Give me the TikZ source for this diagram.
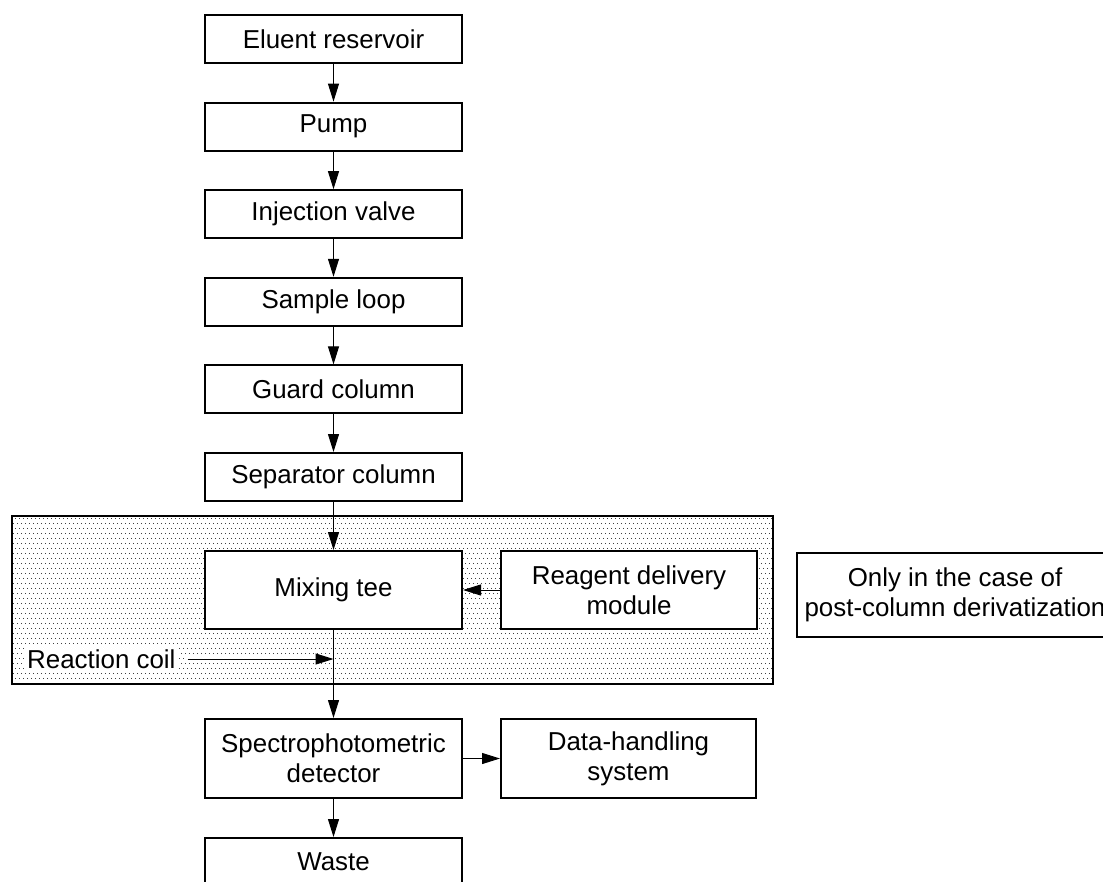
\documentclass[tikz,border=0pt]{standalone}
\usepackage{fontspec}
\setmainfont{Liberation Sans}
\usetikzlibrary{arrows.meta}
\begin{document}
\begin{tikzpicture}[x=1pt,y=-1pt,
  txt/.style={font=\fontsize{25.9}{30}\selectfont},
  box/.style={txt, draw, line width=2pt, fill=white, inner sep=0pt, align=center, minimum width=257pt, minimum height=48pt},
  conn/.style={line width=1pt, -{Triangle[length=18pt,width=11pt]}},
  dotrow/.style={line width=1pt, black!75, dash pattern=on 1pt off 3pt},
  ]
\useasboundingbox (0,0) rectangle (1103,881);
\clip (0,0) rectangle (1103,881);
% shaded region (post-column derivatization)
\begin{scope}
  \clip (11,515) rectangle (774,684);
  \foreach \k in {0,...,16} {
    \draw[dotrow] (11,{518.5+\k*10}) -- (774,{518.5+\k*10});
    \draw[dotrow, dash phase=2pt] (11,{523.5+\k*10}) -- (774,{523.5+\k*10});
  }
\end{scope}
\draw[line width=2pt] (12,516) rectangle (773,684);
% boxes
\node[box] (eluent) at (333.5,39) {Eluent reservoir};
\node[box] (pump) at (333.5,126.6) {Pump};
\node[box] (inj) at (333.5,214.2) {Injection valve};
\node[box] (loop) at (333.5,301.8) {Sample loop};
\node[box] (guard) at (333.5,389.4) {Guard column};
\node[box] (sep) at (333.5,477) {Separator column};
\node[box, minimum height=78pt] (mix) at (333.5,590) {Mixing tee};
\node[box, minimum width=256pt, minimum height=78pt] (reag) at (629,590) {Reagent delivery\\module};
\node[box, minimum height=79pt] (spec) at (333.5,758.5) {Spectrophotometric\\detector};
\node[box, minimum width=255pt, minimum height=79pt] (data) at (628.5,758.5) {Data-handling\\system};
\node[box] (waste) at (333.5,862) {Waste};
\node[box, minimum width=316pt, minimum height=84pt] (note) at (955,595) {Only in the case of\\post-column derivatization};
% reaction coil label
\node[txt, fill=white, inner sep=3pt, anchor=west] (coil) at (24,659) {Reaction coil};
\coordinate (coiltip) at (coil.east -| mix.south);
\draw[white, line width=7pt] ([xshift=6pt]coil.east) -- ([xshift=-1pt]coiltip);
% connectors
\draw[conn] (eluent) -- (pump);
\draw[conn] (pump) -- (inj);
\draw[conn] (inj) -- (loop);
\draw[conn] (loop) -- (guard);
\draw[conn] (guard) -- (sep);
\draw[conn] (sep) -- (mix);
\draw[conn] (reag) -- (mix);
\draw[conn] (mix) -- (spec);
\draw[conn] ([xshift=9pt]coil.east) -- (coiltip);
\draw[conn] (spec) -- (data);
\draw[conn] (spec) -- (waste);
\end{tikzpicture}
\end{document}
